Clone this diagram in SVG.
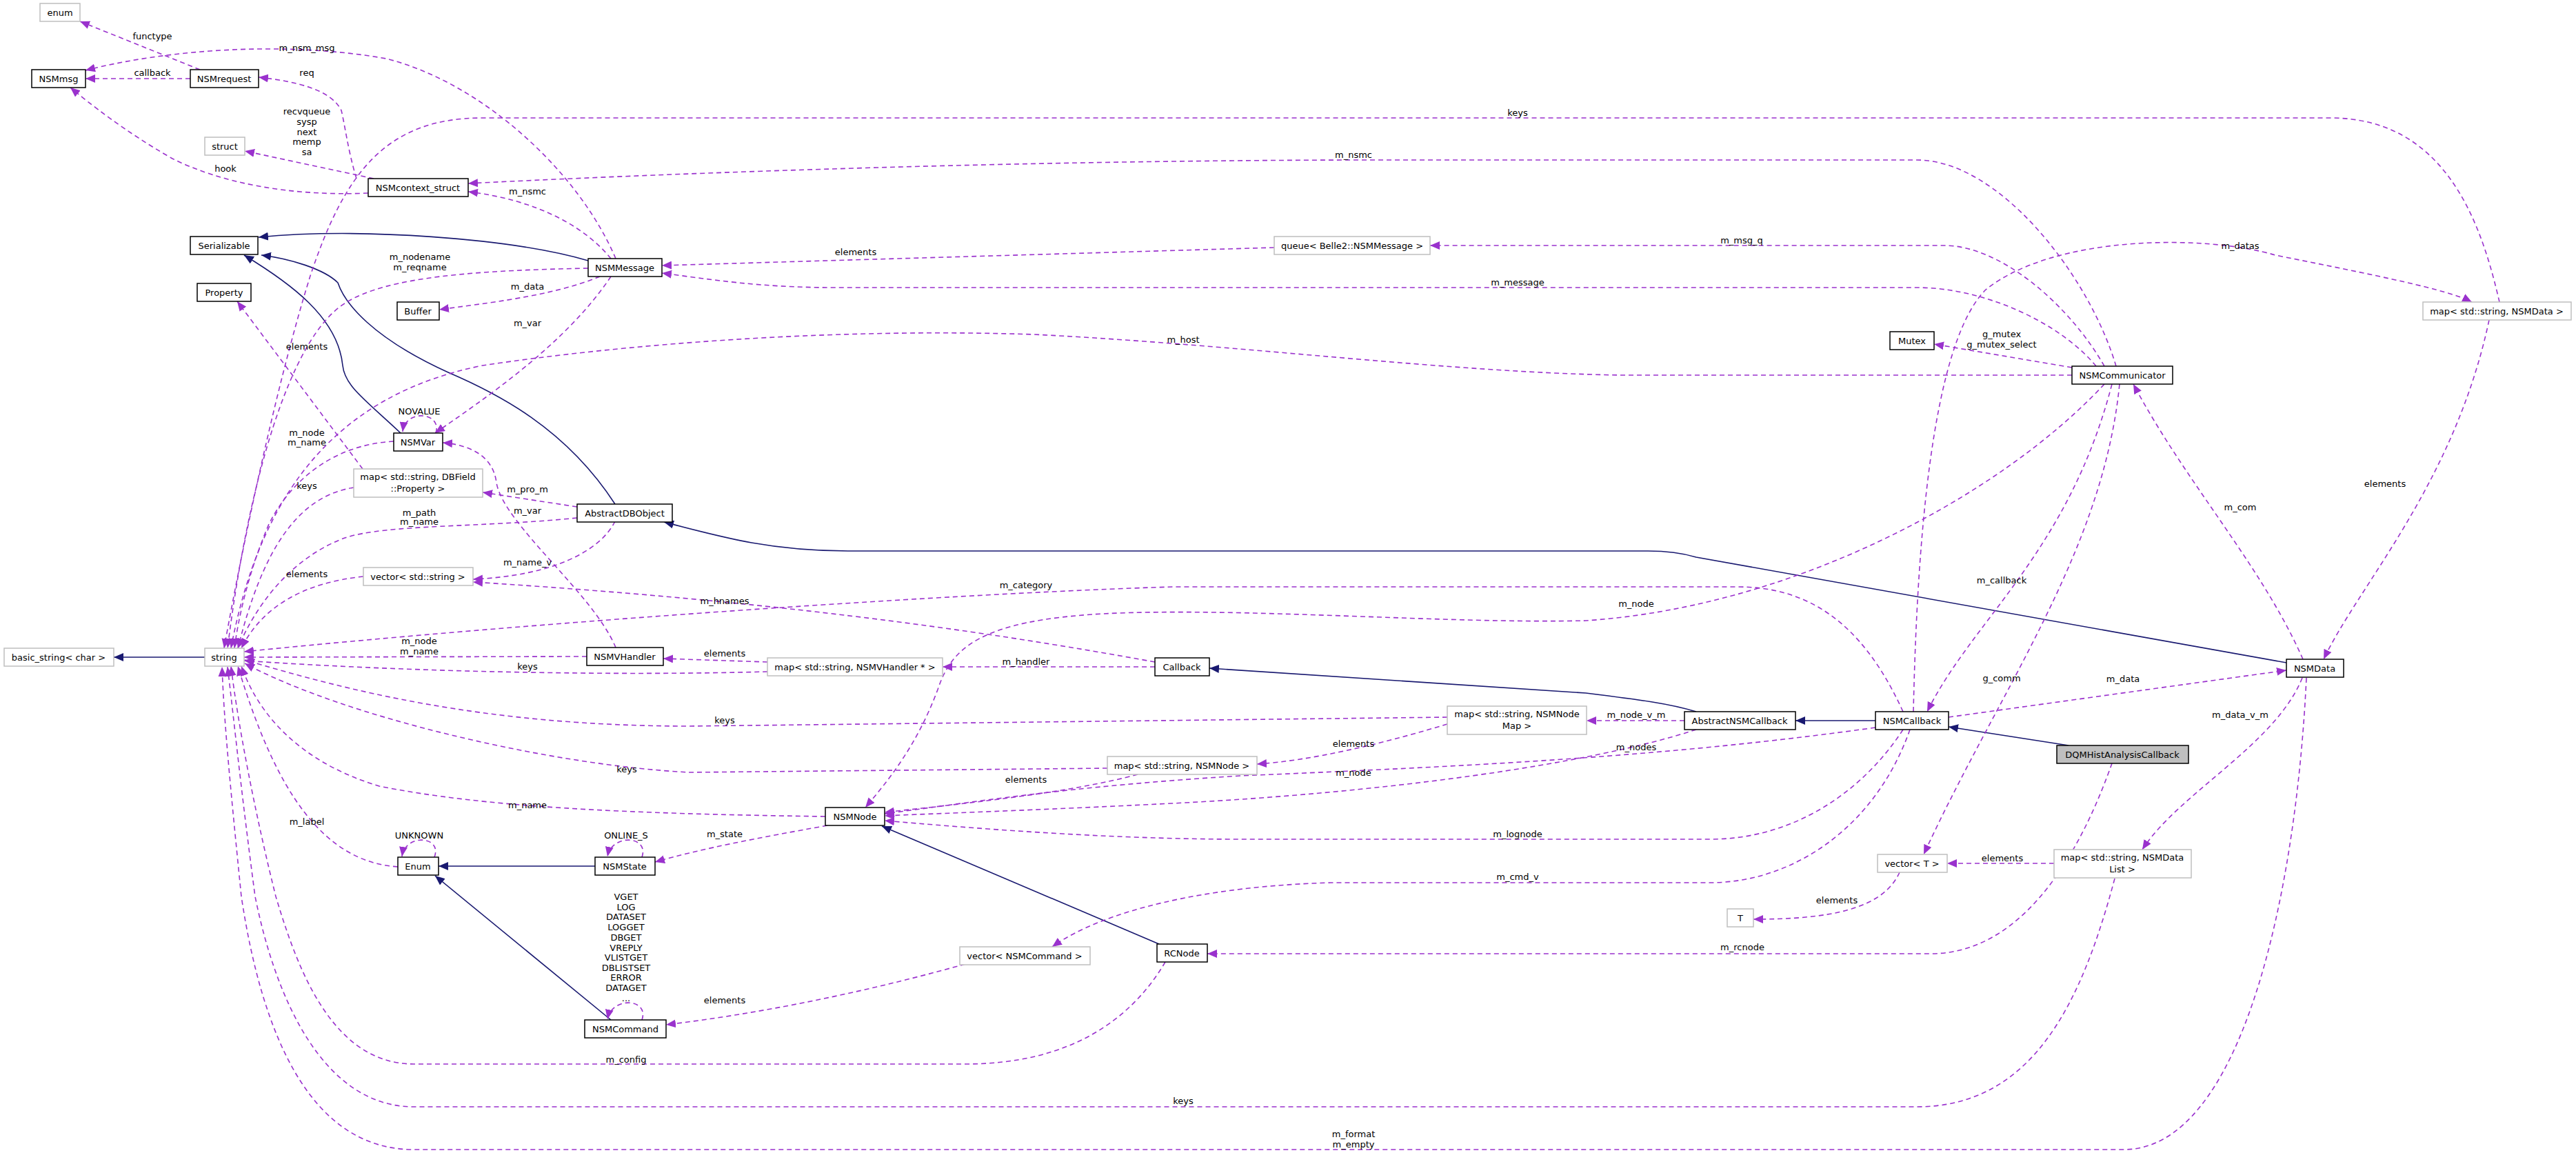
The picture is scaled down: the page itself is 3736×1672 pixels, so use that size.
<svg xmlns="http://www.w3.org/2000/svg" width="3736" height="1672" viewBox="0 0 3736 1672">
<style>
text{font-family:"DejaVu Sans","Liberation Sans",sans-serif;font-size:13px;fill:#000}
.nt{text-anchor:middle}
.lb{text-anchor:middle;font-size:13px}
.n rect{fill:#fff;stroke:#000;stroke-width:1.5}
.g rect{fill:#fff;stroke:#bfbfbf;stroke-width:1.5}
.d rect{fill:#bfbfbf;stroke:#000;stroke-width:1.5}
.e{fill:none;stroke:#9a32cd;stroke-width:1.6;stroke-dasharray:7,5;marker-end:url(#pa)}
.i{fill:none;stroke:#191970;stroke-width:1.6;marker-end:url(#na)}
</style>
<defs>
<marker id="pa" markerUnits="userSpaceOnUse" markerWidth="16" markerHeight="12" refX="14" refY="6" orient="auto"><path d="M0,0 L14,6 L0,12 z" fill="#9a32cd"/></marker>
<marker id="na" markerUnits="userSpaceOnUse" markerWidth="16" markerHeight="12" refX="14" refY="6" orient="auto"><path d="M0,0 L14,6 L0,12 z" fill="#191970"/></marker>
</defs>
<rect width="3736" height="1672" fill="#fff"/>
<g id="edges">
<path class="i" d="M297,953 L165,953"/>
<path class="i" d="M853,378 C740,345 520,330 375,344"/>
<path class="i" d="M581,628 C530,580 500,560 497,530 C490,460 420,410 354,370"/>
<path class="i" d="M892,731 C820,620 720,570 650,540 C540,490 500,440 490,410 C470,390 420,375 379,370"/>
<path class="i" d="M3316,961 L2460,808 C2440,802 2420,799 2390,799 L1230,799 C1120,799 1050,780 963,757"/>
<path class="i" d="M2460,1032 C2420,1020 2380,1015 2300,1005 L1754,969"/>
<path class="i" d="M2720,1045 L2604,1045"/>
<path class="i" d="M3000,1081 L2826,1054"/>
<path class="i" d="M863,1256 L636,1256"/>
<path class="i" d="M886,1479 L631,1270"/>
<path class="i" d="M1681,1369 L1279,1198"/>
<path class="e" d="M290,101 L116,31"/>
<path class="e" d="M276,114 L124,114"/>
<path class="e" d="M893,375 C840,250 700,120 560,85 C420,60 250,70 124,102"/>
<path class="e" d="M517,259 C505,220 500,180 495,160 C480,130 430,118 375,112"/>
<path class="e" d="M542,259 L355,219"/>
<path class="e" d="M534,280 C420,285 320,265 250,230 C180,190 130,150 102,127"/>
<path class="e" d="M886,375 C850,330 780,290 679,278"/>
<path class="e" d="M3069,531 C3030,400 2900,232 2780,232 L2000,232 C1500,232 1000,250 679,266"/>
<path class="e" d="M870,401 C800,430 700,440 637,449"/>
<path class="e" d="M853,389 C700,392 560,400 500,440 C420,490 360,700 330,940"/>
<path class="e" d="M886,401 C820,500 700,580 631,628"/>
<path class="e" d="M1848,359 L960,385"/>
<path class="e" d="M3052,531 C3000,440 2900,356 2820,356 L2074,356"/>
<path class="e" d="M3040,531 C2990,470 2880,417 2780,417 L1210,417 C1100,417 1030,405 960,396"/>
<path class="e" d="M3005,544 L2350,544 C2100,540 1800,500 1500,485 C1200,475 900,500 700,530 C500,570 380,700 335,940"/>
<path class="e" d="M3005,533 L2805,499"/>
<path class="e" d="M2775,1032 C2780,800 2800,500 2880,420 C2980,340 3200,340 3300,370 C3450,400 3550,420 3585,438"/>
<path class="e" d="M3625,438 C3600,330 3550,171 3380,171 L700,171 C560,171 500,250 450,400 C400,560 350,800 325,940"/>
<path class="e" d="M3610,464 C3560,700 3420,850 3370,956"/>
<path class="e" d="M3340,956 C3280,820 3170,700 3094,557"/>
<path class="e" d="M3063,557 C3000,800 2860,900 2795,1032"/>
<path class="e" d="M3074,557 C3050,800 2900,1000 2790,1239"/>
<path class="e" d="M3052,557 C2900,720 2600,880 2300,900 C2100,905 1800,880 1600,890 C1420,900 1380,940 1360,1000 C1330,1080 1290,1130 1255,1171"/>
<path class="e" d="M2760,1032 C2700,900 2620,851 2520,851 L1700,851 C1400,860 800,900 354,945"/>
<path class="e" d="M1675,960 C1400,910 1100,870 686,844"/>
<path class="e" d="M1675,967 L1367,967"/>
<path class="e" d="M1113,960 L962,955"/>
<path class="e" d="M1113,974 C900,980 600,975 354,958"/>
<path class="e" d="M851,952 L354,953"/>
<path class="e" d="M893,939 C860,860 730,760 720,700 C715,660 680,645 642,642"/>
<path class="e" d="M571,640 C480,645 420,700 390,760 C360,830 345,900 340,940"/>
<path class="e" d="M632,628 C642,598 588,592 584,626"/>
<path class="e" d="M526,680 L344,437"/>
<path class="e" d="M513,707 C430,720 380,800 345,940"/>
<path class="e" d="M837,735 L700,714"/>
<path class="e" d="M837,751 C700,765 560,760 500,780 C420,810 370,880 345,940"/>
<path class="e" d="M892,756 C870,800 800,835 686,840"/>
<path class="e" d="M527,836 C440,845 380,880 350,940"/>
<path class="e" d="M1650,1123 C1550,1150 1400,1165 1283,1178"/>
<path class="e" d="M1606,1114 L1000,1120 C800,1110 500,1040 355,962"/>
<path class="e" d="M2099,1050 C2000,1080 1900,1103 1823,1108"/>
<path class="e" d="M2099,1040 L1000,1053 C700,1053 500,1000 355,957"/>
<path class="e" d="M2443,1045 L2301,1045"/>
<path class="e" d="M2460,1058 C2300,1110 2000,1150 1700,1165 C1500,1175 1350,1180 1283,1183"/>
<path class="e" d="M2720,1055 C2400,1100 2100,1112 1800,1125 C1550,1140 1400,1165 1283,1180"/>
<path class="e" d="M2760,1058 C2700,1150 2600,1217 2480,1217 L1800,1217 C1600,1217 1400,1200 1283,1190"/>
<path class="e" d="M1197,1184 C900,1180 700,1170 550,1140 C450,1110 380,1050 350,966"/>
<path class="e" d="M1200,1197 C1100,1215 1020,1230 950,1250"/>
<path class="e" d="M577,1257 C470,1250 400,1150 345,966"/>
<path class="e" d="M630,1243 C642,1212 588,1208 583,1242"/>
<path class="e" d="M931,1243 C942,1212 888,1208 881,1242"/>
<path class="e" d="M931,1479 C942,1448 888,1444 881,1478"/>
<path class="e" d="M2770,1058 C2720,1200 2600,1280 2480,1280 L1930,1280 C1750,1285 1600,1320 1526,1373"/>
<path class="e" d="M1400,1398 C1250,1440 1100,1470 966,1486"/>
<path class="e" d="M1690,1395 C1640,1480 1550,1543 1400,1543 L600,1543 C480,1543 430,1400 400,1300 C370,1180 345,1050 335,966"/>
<path class="e" d="M3063,1107 C3030,1200 2950,1383 2800,1383 L1751,1383"/>
<path class="e" d="M2755,1265 C2730,1320 2650,1333 2543,1333"/>
<path class="e" d="M2979,1252 L2824,1252"/>
<path class="e" d="M3339,983 C3300,1080 3160,1150 3107,1232"/>
<path class="e" d="M3067,1274 C3020,1450 2950,1605 2780,1605 L600,1605 C470,1605 400,1450 370,1300 C350,1150 340,1050 330,967"/>
<path class="e" d="M3345,983 C3330,1300 3250,1667 3080,1667 L600,1667 C450,1667 380,1500 350,1300 C335,1150 325,1050 322,967"/>
<path class="e" d="M2826,1040 L3316,972"/>
</g>
<g id="labels">
<text class="lb" x="221" y="57">functype</text>
<text class="lb" x="445" y="74">m_nsm_msg</text>
<text class="lb" x="221" y="110">callback</text>
<text class="lb" x="445" y="110">req</text>
<text class="lb" x="445" y="166">recvqueue</text>
<text class="lb" x="445" y="181">sysp</text>
<text class="lb" x="445" y="196">next</text>
<text class="lb" x="445" y="210">memp</text>
<text class="lb" x="445" y="225">sa</text>
<text class="lb" x="327" y="249">hook</text>
<text class="lb" x="765" y="282">m_nsmc</text>
<text class="lb" x="609" y="377">m_nodename</text>
<text class="lb" x="609" y="392">m_reqname</text>
<text class="lb" x="765" y="420">m_data</text>
<text class="lb" x="765" y="473">m_var</text>
<text class="lb" x="445" y="507">elements</text>
<text class="lb" x="608" y="601">NOVALUE</text>
<text class="lb" x="445" y="632">m_node</text>
<text class="lb" x="445" y="646">m_name</text>
<text class="lb" x="445" y="709">keys</text>
<text class="lb" x="765" y="714">m_pro_m</text>
<text class="lb" x="765" y="745">m_var</text>
<text class="lb" x="608" y="748">m_path</text>
<text class="lb" x="608" y="761">m_name</text>
<text class="lb" x="765" y="820">m_name_v</text>
<text class="lb" x="445" y="837">elements</text>
<text class="lb" x="608" y="934">m_node</text>
<text class="lb" x="608" y="949">m_name</text>
<text class="lb" x="765" y="971">keys</text>
<text class="lb" x="909" y="1120">keys</text>
<text class="lb" x="765" y="1172">m_name</text>
<text class="lb" x="445" y="1196">m_label</text>
<text class="lb" x="608" y="1216">UNKNOWN</text>
<text class="lb" x="908" y="1216">ONLINE_S</text>
<text class="lb" x="908" y="1305">VGET</text>
<text class="lb" x="908" y="1320">LOG</text>
<text class="lb" x="908" y="1334">DATASET</text>
<text class="lb" x="908" y="1349">LOGGET</text>
<text class="lb" x="908" y="1364">DBGET</text>
<text class="lb" x="908" y="1379">VREPLY</text>
<text class="lb" x="908" y="1393">VLISTGET</text>
<text class="lb" x="908" y="1408">DBLISTSET</text>
<text class="lb" x="908" y="1422">ERROR</text>
<text class="lb" x="908" y="1437">DATAGET</text>
<text class="lb" x="908" y="1452">...</text>
<text class="lb" x="908" y="1541">m_config</text>
<text class="lb" x="1488" y="853">m_category</text>
<text class="lb" x="1051" y="876">m_hnames</text>
<text class="lb" x="1051" y="952">elements</text>
<text class="lb" x="1488" y="964">m_handler</text>
<text class="lb" x="1051" y="1049">keys</text>
<text class="lb" x="1963" y="1083">elements</text>
<text class="lb" x="1963" y="1125">m_node</text>
<text class="lb" x="1488" y="1135">elements</text>
<text class="lb" x="1051" y="1214">m_state</text>
<text class="lb" x="1051" y="1455">elements</text>
<text class="lb" x="2201" y="168">keys</text>
<text class="lb" x="1963" y="229">m_nsmc</text>
<text class="lb" x="1241" y="370">elements</text>
<text class="lb" x="2526" y="353">m_msg_q</text>
<text class="lb" x="3249" y="361">m_datas</text>
<text class="lb" x="2201" y="414">m_message</text>
<text class="lb" x="1716" y="497">m_host</text>
<text class="lb" x="2903" y="489">g_mutex</text>
<text class="lb" x="2903" y="504">g_mutex_select</text>
<text class="lb" x="3459" y="706">elements</text>
<text class="lb" x="3249" y="740">m_com</text>
<text class="lb" x="2903" y="846">m_callback</text>
<text class="lb" x="2373" y="880">m_node</text>
<text class="lb" x="2903" y="988">g_comm</text>
<text class="lb" x="3079" y="989">m_data</text>
<text class="lb" x="2373" y="1041">m_node_v_m</text>
<text class="lb" x="3249" y="1041">m_data_v_m</text>
<text class="lb" x="2373" y="1088">m_nodes</text>
<text class="lb" x="2201" y="1214">m_lognode</text>
<text class="lb" x="2201" y="1276">m_cmd_v</text>
<text class="lb" x="2904" y="1249">elements</text>
<text class="lb" x="2664" y="1310">elements</text>
<text class="lb" x="2527" y="1378">m_rcnode</text>
<text class="lb" x="1716" y="1601">keys</text>
<text class="lb" x="1963" y="1649">m_format</text>
<text class="lb" x="1963" y="1664">m_empty</text>
</g>
<g id="enum" class="g"><rect x="58" y="5" width="58" height="26"/><text class="nt" x="87" y="23">enum</text></g>
<g id="NSMmsg" class="n"><rect x="46" y="101" width="78" height="26"/><text class="nt" x="85" y="119">NSMmsg</text></g>
<g id="NSMrequest" class="n"><rect x="276" y="101" width="99" height="26"/><text class="nt" x="325" y="119">NSMrequest</text></g>
<g id="struct" class="g"><rect x="297" y="199" width="58" height="26"/><text class="nt" x="326" y="217">struct</text></g>
<g id="NSMcontext_struct" class="n"><rect x="534" y="259" width="145" height="26"/><text class="nt" x="606" y="277">NSMcontext_struct</text></g>
<g id="Serializable" class="n"><rect x="276" y="343" width="98" height="26"/><text class="nt" x="325" y="361">Serializable</text></g>
<g id="Property" class="n"><rect x="286" y="411" width="78" height="26"/><text class="nt" x="325" y="429">Property</text></g>
<g id="Buffer" class="n"><rect x="576" y="438" width="61" height="26"/><text class="nt" x="606" y="456">Buffer</text></g>
<g id="NSMMessage" class="n"><rect x="853" y="375" width="107" height="26"/><text class="nt" x="906" y="393">NSMMessage</text></g>
<g id="NSMVar" class="n"><rect x="571" y="628" width="71" height="26"/><text class="nt" x="606" y="646">NSMVar</text></g>
<g id="mapDBField" class="g"><rect x="513" y="680" width="187" height="41"/><text class="nt" x="606" y="696">map&lt; std::string, DBField</text><text class="nt" x="606" y="713">::Property &gt;</text></g>
<g id="AbstractDBObject" class="n"><rect x="837" y="731" width="138" height="26"/><text class="nt" x="906" y="749">AbstractDBObject</text></g>
<g id="vectorString" class="g"><rect x="527" y="823" width="159" height="26"/><text class="nt" x="606" y="841">vector&lt; std::string &gt;</text></g>
<g id="basic_string" class="g"><rect x="6" y="940" width="159" height="26"/><text class="nt" x="85" y="958">basic_string&lt; char &gt;</text></g>
<g id="string" class="g"><rect x="297" y="940" width="57" height="26"/><text class="nt" x="325" y="958">string</text></g>
<g id="NSMVHandler" class="n"><rect x="851" y="939" width="111" height="26"/><text class="nt" x="906" y="957">NSMVHandler</text></g>
<g id="Enum" class="n"><rect x="577" y="1243" width="59" height="26"/><text class="nt" x="606" y="1261">Enum</text></g>
<g id="NSMState" class="n"><rect x="863" y="1243" width="87" height="26"/><text class="nt" x="906" y="1261">NSMState</text></g>
<g id="NSMCommand" class="n"><rect x="848" y="1479" width="118" height="26"/><text class="nt" x="907" y="1497">NSMCommand</text></g>
<g id="mapVHandler" class="g"><rect x="1113" y="954" width="254" height="26"/><text class="nt" x="1240" y="972">map&lt; std::string, NSMVHandler * &gt;</text></g>
<g id="Callback" class="n"><rect x="1675" y="954" width="79" height="26"/><text class="nt" x="1714" y="972">Callback</text></g>
<g id="mapNSMNode" class="g"><rect x="1606" y="1097" width="217" height="26"/><text class="nt" x="1714" y="1115">map&lt; std::string, NSMNode &gt;</text></g>
<g id="NSMNode" class="n"><rect x="1197" y="1171" width="86" height="26"/><text class="nt" x="1240" y="1189">NSMNode</text></g>
<g id="vectorNSMCommand" class="g"><rect x="1392" y="1373" width="189" height="26"/><text class="nt" x="1486" y="1391">vector&lt; NSMCommand &gt;</text></g>
<g id="RCNode" class="n"><rect x="1678" y="1369" width="73" height="26"/><text class="nt" x="1714" y="1387">RCNode</text></g>
<g id="queue" class="g"><rect x="1848" y="343" width="226" height="26"/><text class="nt" x="1961" y="361">queue&lt; Belle2::NSMMessage &gt;</text></g>
<g id="Mutex" class="n"><rect x="2741" y="481" width="64" height="26"/><text class="nt" x="2773" y="499">Mutex</text></g>
<g id="NSMCommunicator" class="n"><rect x="3005" y="531" width="146" height="26"/><text class="nt" x="3078" y="549">NSMCommunicator</text></g>
<g id="mapNSMData" class="g"><rect x="3514" y="438" width="215" height="26"/><text class="nt" x="3621" y="456">map&lt; std::string, NSMData &gt;</text></g>
<g id="NSMData" class="n"><rect x="3316" y="956" width="83" height="26"/><text class="nt" x="3357" y="974">NSMData</text></g>
<g id="mapNSMNodeMap" class="g"><rect x="2099" y="1024" width="202" height="41"/><text class="nt" x="2200" y="1040">map&lt; std::string, NSMNode</text><text class="nt" x="2200" y="1057">Map &gt;</text></g>
<g id="AbstractNSMCallback" class="n"><rect x="2443" y="1032" width="161" height="26"/><text class="nt" x="2523" y="1050">AbstractNSMCallback</text></g>
<g id="NSMCallback" class="n"><rect x="2720" y="1032" width="106" height="26"/><text class="nt" x="2773" y="1050">NSMCallback</text></g>
<g id="DQMHistAnalysisCallback" class="d"><rect x="2983" y="1081" width="191" height="26"/><text class="nt" x="3078" y="1099">DQMHistAnalysisCallback</text></g>
<g id="vectorT" class="g"><rect x="2723" y="1239" width="101" height="26"/><text class="nt" x="2773" y="1257">vector&lt; T &gt;</text></g>
<g id="T" class="g"><rect x="2505" y="1318" width="38" height="26"/><text class="nt" x="2524" y="1336">T</text></g>
<g id="mapDataList" class="g"><rect x="2979" y="1232" width="199" height="41"/><text class="nt" x="3078" y="1248">map&lt; std::string, NSMData</text><text class="nt" x="3078" y="1265">List &gt;</text></g>
</svg>
